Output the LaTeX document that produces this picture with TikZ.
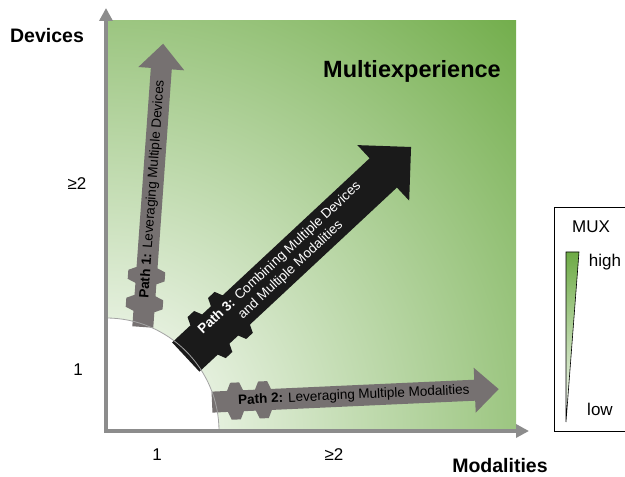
\documentclass[tikz,border=0pt]{standalone}
\usepackage{fontspec}
\setmainfont{Liberation Sans}
\usetikzlibrary{arrows.meta,calc}
\definecolor{mxdark}{HTML}{6EAB46}
\definecolor{arrowgray}{HTML}{767171}
\definecolor{axisgray}{HTML}{8C8C8C}
\definecolor{pathblack}{HTML}{1A1A1A}

% gear arrow: base, angle, length, half shaft, half head, head length, fill
\newcommand{\geararrow}[7]{%
    \begin{scope}[shift={#1},rotate=#2]
        \pgfmathsetmacro\gA{#4+2}\pgfmathsetmacro\gB{#4+5.5}
        \pgfmathsetmacro\gC{#4+14.5}\pgfmathsetmacro\gD{#4+18}
        \pgfmathsetmacro\gE{#4+30}\pgfmathsetmacro\gF{#4+33.5}
        \pgfmathsetmacro\gG{#4+42.5}\pgfmathsetmacro\gH{#4+46}
        \pgfmathsetmacro\gW{#4+8}\pgfmathsetmacro\gL{#3-#6}
        \fill[#7](-3,-#4)--(\gA,-#4)--(\gB,-\gW)--(\gC,-\gW)--(\gD,-#4)--(\gE,-#4)--(\gF,-\gW)--(\gG,-\gW)--(\gH,-#4)
            --(\gL,-#4)--(\gL,-#5)--(#3,0)--(\gL,#5)--(\gL,#4)
            --(\gH,#4)--(\gG,\gW)--(\gF,\gW)--(\gE,#4)--(\gD,#4)--(\gC,\gW)--(\gB,\gW)--(\gA,#4)--(-3,#4)--cycle;
    \end{scope}}

\begin{document}
\begin{tikzpicture}[x=1pt,y=1pt,
    axis/.style={line width=3.5pt,draw=axisgray,-{Triangle[length=13pt,width=13pt]}},
    pathlabel/.style={font=\fontsize{13.5}{16}\selectfont,align=center,inner sep=0pt},
    axislabel/.style={font=\fontsize{19.5}{22}\selectfont\bfseries,anchor=base,inner sep=0pt},
    ticklabel/.style={font=\fontsize{17}{20}\selectfont,anchor=base,inner sep=0pt}]
    \useasboundingbox (0,0) rectangle (625,477);
    \coordinate (origin) at (106,46);

    % green field
    \begin{scope}
        \clip (106,46) rectangle (516,456);
        \shade[inner color=white,outer color=mxdark] (origin) circle (600);
    \end{scope}
    \fill[white] (origin) -- (219,46) arc (0:90:113) -- cycle;

    % the three paths
    \coordinate (base1) at (143,153);
    \coordinate (base2) at (215,75);
    \coordinate (base3) at (188,122);
    \geararrow{(base1)}{85.9}{281}{10.5}{23}{25}{arrowgray}
    \geararrow{(base2)}{2.6}{284}{10.5}{22.5}{24}{arrowgray}
    \geararrow{(base3)}{43}{305}{20}{38}{38}{pathblack}
    \draw[axisgray!80,line width=0.8pt] (106,159) arc (90:0:113);

    \node[pathlabel,rotate=85.9] (label1) at ($(base1)+(85.9:135)$) {\textbf{Path 1:} Leveraging Multiple Devices};
    \node[pathlabel,rotate=2.6] (label2) at ($(base2)+(2.6:139)$) {\textbf{Path 2:} Leveraging Multiple Modalities};
    \node[pathlabel,rotate=43,text=white] (label3) at ($(base3)+(43:133)$) {\textbf{Path 3:} Combining Multiple Devices\\and Multiple Modalities};

    % axes
    \draw[axis] (106,44.25) -- (106,469);
    \draw[axis] (104.25,46) -- (529,46);
    \node[axislabel] (devices) at (47,434) {Devices};
    \node[axislabel] (modalities) at (500,4) {Modalities};
    \node[ticklabel] (dev2) at (77,287) {≥2};
    \node[ticklabel] (dev1) at (78,101) {1};
    \node[ticklabel] (mod1) at (157,16) {1};
    \node[ticklabel] (mod2) at (334,16) {≥2};
    \node[font=\fontsize{23.5}{26}\selectfont\bfseries,anchor=base,inner sep=0pt] (multi) at (412,399) {Multiexperience};

    % legend
    \draw[line width=0.6pt] (625,270) -- (554,270) -- (554,46) -- (625,46);
    \shadedraw[top color=mxdark,bottom color=white,draw=black,line width=0.6pt] (566,225) -- (579,225) -- (566,55) -- cycle;
    \node[ticklabel] (mux) at (591,244) {MUX};
    \node[ticklabel] (high) at (605,210) {high};
    \node[ticklabel] (low) at (600,61) {low};
\end{tikzpicture}
\end{document}
